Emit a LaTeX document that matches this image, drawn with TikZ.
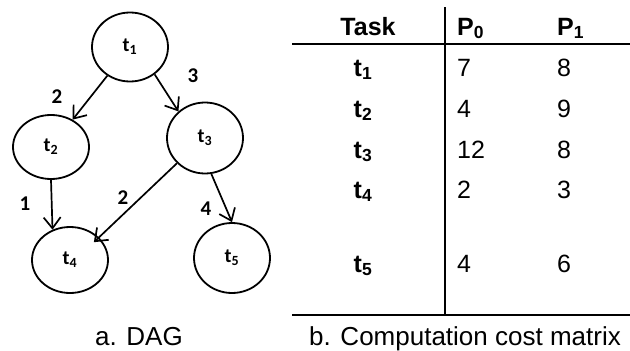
\documentclass[tikz,border=0pt]{standalone}
\usepackage{fontspec}
\setmainfont{Liberation Sans}
\newfontfamily\calibri{Carlito}
\usetikzlibrary{arrows.meta,shapes.geometric}
\begin{document}
\begin{tikzpicture}[x=1pt,y=-1pt,
  task/.style={ellipse,draw,line width=1.8pt,minimum width=76pt,minimum height=69pt,inner sep=0pt,
    font=\calibri\bfseries\fontsize{20}{24}\selectfont},
  edge/.style={line width=1.7pt,-{Straight Barb[length=11pt,width=17pt,line width=1.7pt]}},
  wlabel/.style={font=\calibri\bfseries\fontsize{21}{24}\selectfont,inner sep=0pt},
  cell/.style={anchor=base,inner sep=0pt,font=\fontsize{25}{30}\selectfont},
  lcell/.style={cell,anchor=base west},
  hcell/.style={cell,font=\bfseries\fontsize{25}{30}\selectfont},
  rule/.style={line width=1.6pt},
  caption/.style={anchor=base,inner sep=0pt,font=\fontsize{26}{30}\selectfont}]
\useasboundingbox (0,0) rectangle (630,351);
% DAG
\node[task] (t1) at (130,47) {t\textsubscript{1}};
\node[task,minimum height=64pt] (t2) at (51,147) {t\textsubscript{2}};
\node[task,minimum height=71pt] (t3) at (205,138) {t\textsubscript{3}};
\node[task,minimum height=66pt] (t4) at (70,260) {t\textsubscript{4}};
\node[task,minimum height=70pt] (t5) at (232,258) {t\textsubscript{5}};
\draw[edge] (t1) -- (t2);
\draw[edge] (t1.-48) -- (t3.135);
\draw[edge] (t2.south) -- (t4.120);
\draw[edge,shorten >=-7pt] (t3.-138) -- (t4.38);
\draw[edge] (t3.-80) -- (t5.north);
\node[wlabel] (w12) at (57,97) {2};
\node[wlabel] (w13) at (193,76) {3};
\node[wlabel] (w24) at (25,204) {1};
\node[wlabel] (w34) at (123,198) {2};
\node[wlabel] (w35) at (206,209) {4};
% table
\coordinate (vtop) at (445,7);
\coordinate (vbot) at (445,315);
\coordinate (hl) at (292,44);
\coordinate (hr) at (630,44);
\coordinate (bl) at (292,315);
\coordinate (br) at (630,315);
\draw[rule] (vtop) -- (vbot);
\draw[rule] (hl) -- (hr);
\draw[rule] (bl) -- (br);
\node[hcell] (th) at (368,35) {Task};
\node[hcell,anchor=base west] (p0h) at (457,35) {P\textsubscript{0}};
\node[hcell,anchor=base west] (p1h) at (557,35) {P\textsubscript{1}};
\node[hcell] (r1) at (363,76) {t\textsubscript{1}};
\node[lcell] (r1a) at (457,76) {7};
\node[lcell] (r1b) at (557,76) {8};
\node[hcell] (r2) at (363,117) {t\textsubscript{2}};
\node[lcell] (r2a) at (457,117) {4};
\node[lcell] (r2b) at (557,117) {9};
\node[hcell] (r3) at (363,158) {t\textsubscript{3}};
\node[lcell] (r3a) at (457,158) {12};
\node[lcell] (r3b) at (557,158) {8};
\node[hcell] (r4) at (363,198) {t\textsubscript{4}};
\node[lcell] (r4a) at (457,198) {2};
\node[lcell] (r4b) at (557,198) {3};
\node[hcell] (r5) at (363,272) {t\textsubscript{5}};
\node[lcell] (r5a) at (457,272) {4};
\node[lcell] (r5b) at (557,272) {6};
% captions
\node[caption] (ca) at (139,345) {a. DAG};
\node[caption] (cb) at (465,345) {b. Computation cost matrix};
\end{tikzpicture}
\end{document}
